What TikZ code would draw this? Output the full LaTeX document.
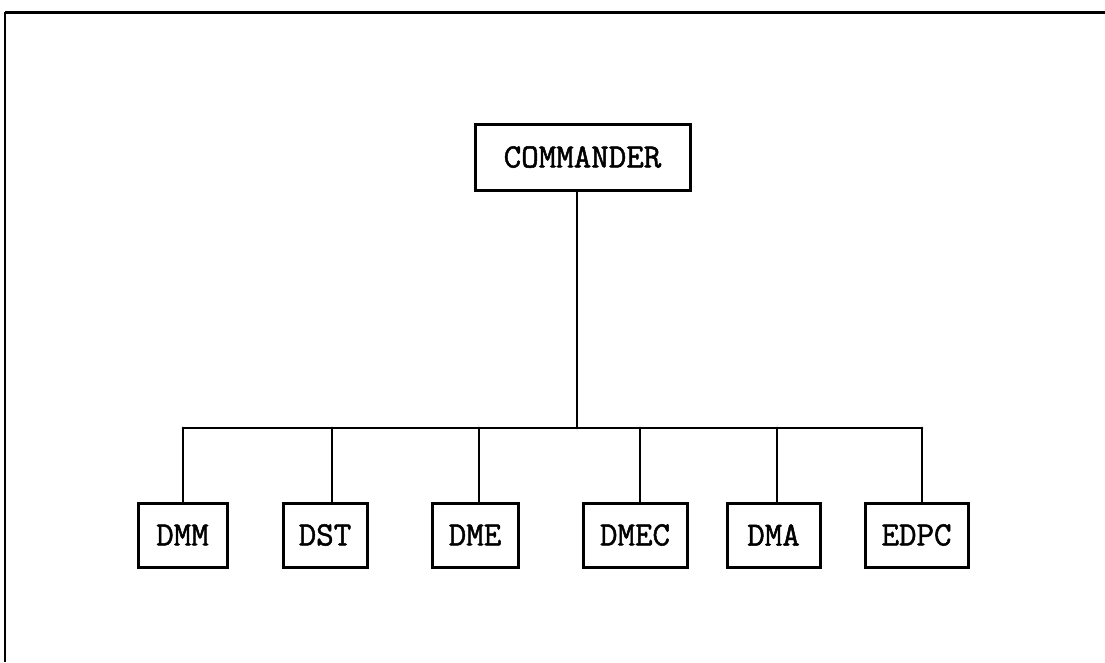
\documentclass[tikz,border=0pt]{standalone}
\usepackage{fontspec}
\newfontfamily\typewr[FakeBold=1.5]{Latin Modern Mono}
\begin{document}
\begin{tikzpicture}[x=1pt,y=-1pt,
  unit/.style={draw=black, line width=3pt, rectangle, inner sep=0pt,
    minimum height=64pt, font=\fontsize{34}{40}\selectfont\typewr},
  link/.style={line width=2.8pt, line cap=round}]
\useasboundingbox (0,0) rectangle (1105,662);
% frame
\coordinate (ftl) at (5,12);
\coordinate (ftr) at (1105,12);
\coordinate (fbl) at (5,662);
\draw[line width=3pt] (ftl) -- (ftr);
\draw[line width=1.2pt] (ftl) -- (fbl);
% nodes
\node[unit, minimum width=215pt, minimum height=66pt] (cmd) at (582.5,157) {COMMANDER};
\node[unit, minimum width=89pt]  (dmm)  at (182.5,535) {DMM};
\node[unit, minimum width=84pt]  (dst)  at (325,535)   {DST};
\node[unit, minimum width=86pt]  (dme)  at (475,535)   {DME};
\node[unit, minimum width=104pt] (dmec) at (635,535)   {DMEC};
\node[unit, minimum width=93pt]  (dma)  at (773.5,535) {DMA};
\node[unit, minimum width=103pt] (edpc) at (916.5,535) {EDPC};
% bus
\coordinate (j)  at (577,428);
\coordinate (b1) at (183,428);
\coordinate (b2) at (332,428);
\coordinate (b3) at (479,428);
\coordinate (b4) at (640,428);
\coordinate (b5) at (777,428);
\coordinate (b6) at (922,428);
\draw[link] (cmd.south -| j) -- (j);
\draw[link] (b1) -- (b6);
\draw[link] (b1) -- (b1 |- dmm.north);
\draw[link] (b2) -- (b2 |- dst.north);
\draw[link] (b3) -- (b3 |- dme.north);
\draw[link] (b4) -- (b4 |- dmec.north);
\draw[link] (b5) -- (b5 |- dma.north);
\draw[link] (b6) -- (b6 |- edpc.north);
\end{tikzpicture}
\end{document}
